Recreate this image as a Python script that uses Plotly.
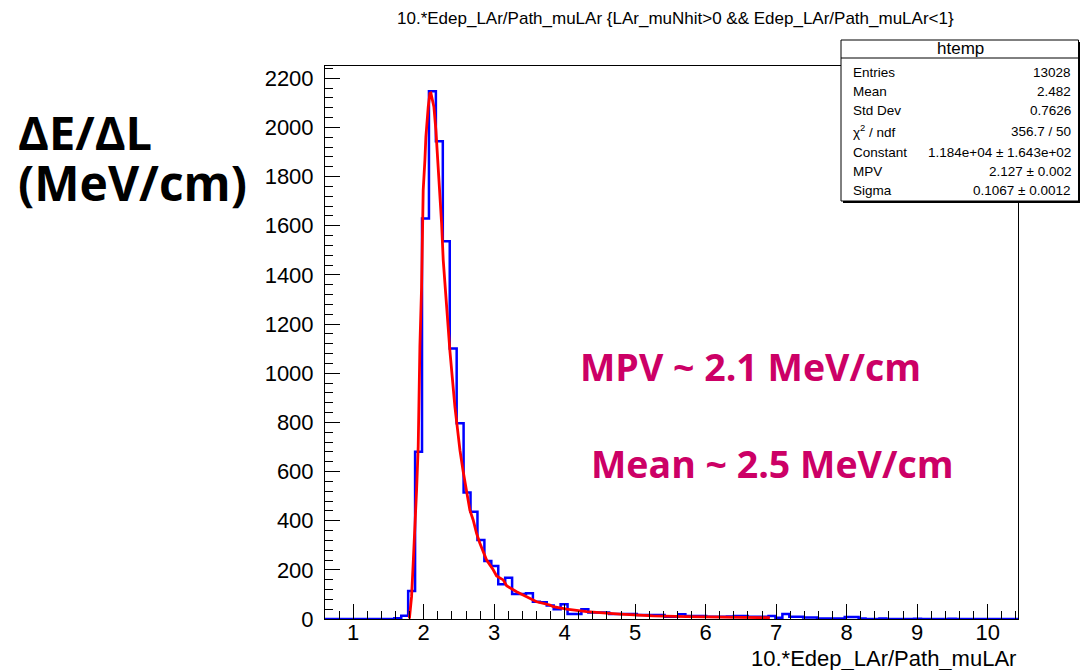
import numpy as np
import plotly.graph_objects as go

# ---- data ---------------------------------------------------------------
x_lo, x_hi, n_bins = 0.60, 10.43, 100

# histogram contents, one value per bin starting at x_lo
counts = [
    0, 0, 0, 0, 0, 0, 0, 0, 0, 0,
    3, 13, 114, 680, 1630, 2147, 1944, 1537, 1101, 796,
    515, 436, 321, 236, 216, 141, 168, 102, 102, 105,
    70, 68, 55, 40, 60, 20, 20, 40, 26, 26,
    26, 20, 20, 20, 20, 16, 16, 16, 16, 9,
    9, 19, 12, 12, 12, 9, 9, 9, 10, 12,
    12, 9, 9, 9, 12, 5, 20, 9, 9, 6,
    6, 2, 2, 2, 2, 8, 8, 2, 0, 0,
    2, 0, 0, 0, 0, 1, 0, 0, 0, 0,
    1, 0, 0, 0, 0, 0, 0, 0, 0, 0,
]

# Landau fit curve
fit_x = [1.797, 1.828, 1.851, 1.875, 1.899, 1.922, 1.932, 1.946, 1.970, 1.984,
         1.993, 2.017, 2.031, 2.064, 2.088, 2.102, 2.145, 2.173, 2.220, 2.254,
         2.277, 2.311, 2.348, 2.372, 2.443, 2.514, 2.560, 2.631, 2.655, 2.702,
         2.750, 2.797, 2.844, 2.892, 2.986, 3.034, 3.128, 3.176, 3.318, 3.365,
         3.553, 3.601, 3.790, 3.837, 4.027, 4.311, 4.783, 5.255, 5.729, 6.201,
         6.674, 6.910]
fit_y = [2, 91, 226, 362, 525, 701, 904, 1108, 1351, 1555,
         1745, 1867, 1961, 2083, 2138, 2140, 2083, 1989, 1773, 1610,
         1460, 1326, 1189, 1090, 863, 687, 600, 484, 443, 403,
         348, 308, 274, 240, 200, 175, 159, 135, 111, 104,
         75, 70, 57, 50, 40, 30, 20, 13, 10, 8,
         6, 5]

x_ticks = list(range(1, 11))
y_ticks = list(range(0, 2201, 200))

title_text = "10.*Edep_LAr/Path_muLAr {LAr_muNhit>0 && Edep_LAr/Path_muLAr<1}"
xaxis_text = "10.*Edep_LAr/Path_muLAr"
stats_name = "htemp"
stats_labels = ["Entries", "Mean", "Std Dev", "χ<sup>2</sup> / ndf", "Constant", "MPV", "Sigma"]
stats_values = ["13028", "2.482", "0.7626", "356.7 / 50",
                "1.184e+04 ± 1.643e+02", "2.127 ± 0.002", "0.1067 ± 0.0012"]

# ---- geometry -----------------------------------------------------------
W, H = 1081, 670
L, R, T, B = 325, 1018, 66, 619   # plot frame in pixels
y_top = 2250


def px(xpix):
    return (xpix - L) / (R - L)


def py(ypix):
    return (B - ypix) / (B - T)


edges = np.linspace(x_lo, x_hi, n_bins + 1)
step_x = list(edges)
step_y = list(counts) + [counts[-1]]

FONT = "Liberation Sans"

fig = go.Figure()
fig.add_trace(go.Scatter(
    x=step_x, y=step_y, mode="lines", line_shape="hv",
    line=dict(color="#0000FF", width=2.5), hoverinfo="skip", showlegend=False,
))
fig.add_trace(go.Scatter(
    x=fit_x, y=fit_y, mode="lines",
    line=dict(color="#FF0000", width=2.8), hoverinfo="skip", showlegend=False,
))

fig.update_layout(
    width=W, height=H,
    margin=dict(l=L, r=W - R, t=T, b=H - B, pad=0),
    paper_bgcolor="white", plot_bgcolor="white",
    font=dict(family=FONT, color="black"),
    showlegend=False,
)
fig.update_xaxes(
    range=[x_lo, x_hi], tickmode="array", tickvals=x_ticks,
    ticks="inside", ticklen=15, tickwidth=1, tickcolor="black",
    minor=dict(ticks="inside", ticklen=8, dtick=0.2, tick0=0, tickcolor="black"),
    showline=True, linecolor="black", linewidth=1, mirror=True,
    showgrid=False, zeroline=False,
    tickfont=dict(family=FONT, size=22, color="black"),
    ticklabelstandoff=-6,
)
fig.update_yaxes(
    range=[0, y_top], tickmode="array", tickvals=y_ticks,
    ticks="inside", ticklen=15, tickwidth=1, tickcolor="black",
    minor=dict(ticks="inside", ticklen=8, dtick=40, tick0=0, tickcolor="black"),
    showline=True, linecolor="black", linewidth=1, mirror=True,
    showgrid=False, zeroline=False,
    tickfont=dict(family=FONT, size=22, color="black"),
    ticklabelstandoff=6,
)

ann = []
# histogram title
ann.append(dict(x=px(675), y=py(18), xref="paper", yref="paper", text=title_text,
                showarrow=False, xanchor="center", yanchor="middle",
                font=dict(family=FONT, size=17, color="black")))
# x axis title
ann.append(dict(x=px(1018), y=py(658), xref="paper", yref="paper", text=xaxis_text,
                showarrow=False, xanchor="right", yanchor="middle",
                font=dict(family=FONT, size=22, color="black")))

# statistics box
shapes = [
    dict(type="rect", xref="paper", yref="paper",
         x0=px(843), x1=px(1080), y0=py(203), y1=py(42),
         line=dict(width=0), fillcolor="black", layer="above"),
    dict(type="rect", xref="paper", yref="paper",
         x0=px(841), x1=px(1078.5), y0=py(201), y1=py(40),
         line=dict(color="black", width=1), fillcolor="white", layer="above"),
    dict(type="line", xref="paper", yref="paper",
         x0=px(841), x1=px(1078.5), y0=py(58), y1=py(58),
         line=dict(color="black", width=1), layer="above"),
]
ann.append(dict(x=px(960), y=py(49), xref="paper", yref="paper", text=stats_name,
                showarrow=False, xanchor="center", yanchor="middle",
                font=dict(family=FONT, size=17, color="black")))
row_y = [72, 92, 111, 131, 152, 171, 190]
for lab, val, yy in zip(stats_labels, stats_values, row_y):
    ann.append(dict(x=px(851), y=py(yy), xref="paper", yref="paper", text=lab,
                    showarrow=False, xanchor="left", yanchor="middle",
                    font=dict(family=FONT, size=13.5, color="black")))
    ann.append(dict(x=px(1073), y=py(yy), xref="paper", yref="paper", text=val,
                    showarrow=False, xanchor="right", yanchor="middle",
                    font=dict(family=FONT, size=13.5, color="black")))

# quantity label on the left, two lines
BIG = "Open Sans"
ann.append(dict(x=px(16), y=py(132), xref="paper", yref="paper", text="<b>ΔE/ΔL</b>",
                showarrow=False, xanchor="left", yanchor="middle",
                font=dict(family=BIG, size=47, color="black")))
ann.append(dict(x=px(16), y=py(182), xref="paper", yref="paper", text="<b>(MeV/cm)</b>",
                showarrow=False, xanchor="left", yanchor="middle",
                font=dict(family=BIG, size=48, color="black")))

# highlighted values
MAG = "#CC0066"
ann.append(dict(x=px(750), y=py(366), xref="paper", yref="paper",
                text="<b>MPV ~ 2.1 MeV/cm</b>",
                showarrow=False, xanchor="center", yanchor="middle",
                font=dict(family=BIG, size=37.5, color=MAG)))
ann.append(dict(x=px(772), y=py(463), xref="paper", yref="paper",
                text="<b>Mean ~ 2.5 MeV/cm</b>",
                showarrow=False, xanchor="center", yanchor="middle",
                font=dict(family=BIG, size=37.5, color=MAG)))

fig.update_layout(annotations=ann, shapes=shapes)
fig.write_html("out.html")
